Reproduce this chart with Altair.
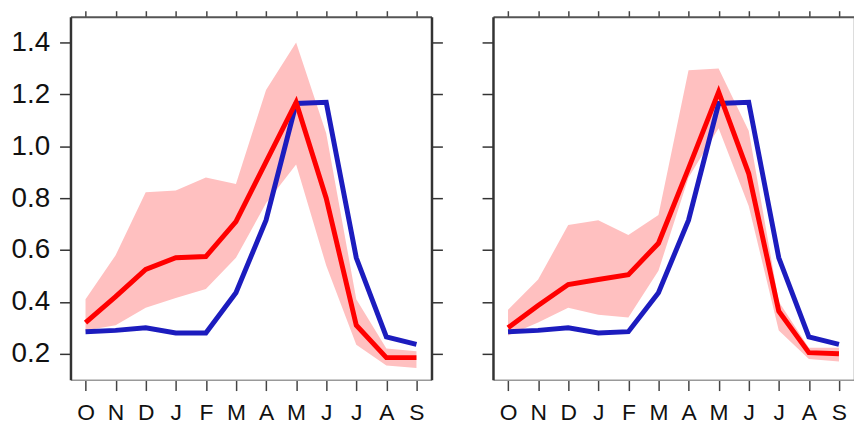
import json
import altair as alt
import pandas as pd

months = ["O", "N", "D", "J", "F", "M", "A", "M", "J", "J", "A", "S"]
y_ticks = [0.2, 0.4, 0.6, 0.8, 1.0, 1.2, 1.4]

# Left panel
red_left = [0.32, 0.42, 0.525, 0.57, 0.575, 0.71, 0.94, 1.17, 0.80, 0.31, 0.185, 0.185]
blue_left = [0.285, 0.29, 0.30, 0.28, 0.28, 0.435, 0.715, 1.165, 1.17, 0.57, 0.265, 0.236]
band_hi_left = [0.41, 0.58, 0.823, 0.83, 0.88, 0.855, 1.217, 1.40, 1.05, 0.41, 0.22, 0.21]
band_lo_left = [0.29, 0.31, 0.377, 0.415, 0.45, 0.57, 0.78, 0.93, 0.54, 0.235, 0.155, 0.145]

# Right panel
red_right = [0.30, 0.386, 0.467, 0.486, 0.505, 0.626, 0.915, 1.21, 0.895, 0.364, 0.204, 0.20]
blue_right = [0.285, 0.29, 0.30, 0.28, 0.285, 0.435, 0.715, 1.165, 1.17, 0.57, 0.265, 0.236]
band_hi_right = [0.37, 0.486, 0.696, 0.715, 0.658, 0.735, 1.293, 1.30, 1.06, 0.40, 0.223, 0.223]
band_lo_right = [0.27, 0.32, 0.377, 0.35, 0.34, 0.52, 0.88, 1.07, 0.77, 0.29, 0.18, 0.17]

FONT = "Liberation Sans"
label_expr = json.dumps(months) + "[datum.value]"

xscale = alt.Scale(type="point", padding=0.5)
yscale = alt.Scale(domain=[0.1, 1.5], nice=False, zero=False)


def panel(red, blue, hi, lo, show_ylabels, right_ticks):
    df = pd.DataFrame({"i": list(range(len(months))), "red": red, "blue": blue,
                       "hi": hi, "lo": lo})
    base = alt.Chart(df)

    ax_bottom = alt.Axis(orient="bottom", labelExpr=label_expr, labelAngle=0,
                         labelFontSize=23, labelFont=FONT, labelColor="#111",
                         labelPadding=11, tickSize=11, tickWidth=1.5, tickColor="#444",
                         domainColor="#999", domainWidth=1.5, grid=False, title=None)
    ax_top = alt.Axis(orient="top", labels=False, tickSize=6, tickWidth=1.5,
                      tickColor="#444", domainColor="#555", domainWidth=2,
                      grid=False, title=None)
    ax_left = alt.Axis(orient="left", values=y_ticks, format=".1f", labels=show_ylabels,
                       labelFontSize=28, labelFont=FONT, labelColor="#111",
                       labelPadding=10, tickSize=11, tickWidth=1.5, tickColor="#333",
                       domainColor="#333", domainWidth=2.5, grid=False, title=None)
    if right_ticks:
        ax_right = alt.Axis(orient="right", values=y_ticks, labels=False, tickSize=11,
                            tickWidth=1.5, tickColor="#333", domainColor="#333",
                            domainWidth=2.5, grid=False, title=None)
    else:
        ax_right = alt.Axis(orient="right", values=y_ticks, labels=False, ticks=False,
                            domainColor="#777", domainWidth=1.5, grid=False, title=None)

    band = base.mark_area(color="#ffc0c0", opacity=1).encode(
        x=alt.X("i:O", scale=xscale, axis=ax_bottom),
        y=alt.Y("lo:Q", scale=yscale, axis=ax_left),
        y2="hi:Q",
    )
    red_line = base.mark_line(color="#ff0000", strokeWidth=5).encode(
        x=alt.X("i:O", scale=xscale, axis=ax_top),
        y=alt.Y("red:Q", scale=yscale, axis=ax_right),
    )
    blue_line = base.mark_line(color="#1c1cbe", strokeWidth=5).encode(
        x=alt.X("i:O", scale=xscale, axis=None),
        y=alt.Y("blue:Q", scale=yscale, axis=None),
    )
    return (
        alt.layer(band, blue_line, red_line)
        .resolve_axis(x="independent", y="independent")
        .properties(width=364, height=366)
    )


left = panel(red_left, blue_left, band_hi_left, band_lo_left, True, True)
right = panel(red_right, blue_right, band_hi_right, band_lo_right, False, False)

chart = (
    alt.hconcat(left, right, spacing=38)
    .properties(padding={"left": 3, "top": 0, "right": 0, "bottom": 0})
    .configure_view(stroke=None)
)

chart.save("out.html", embed_options={"renderer": "svg", "actions": False})
